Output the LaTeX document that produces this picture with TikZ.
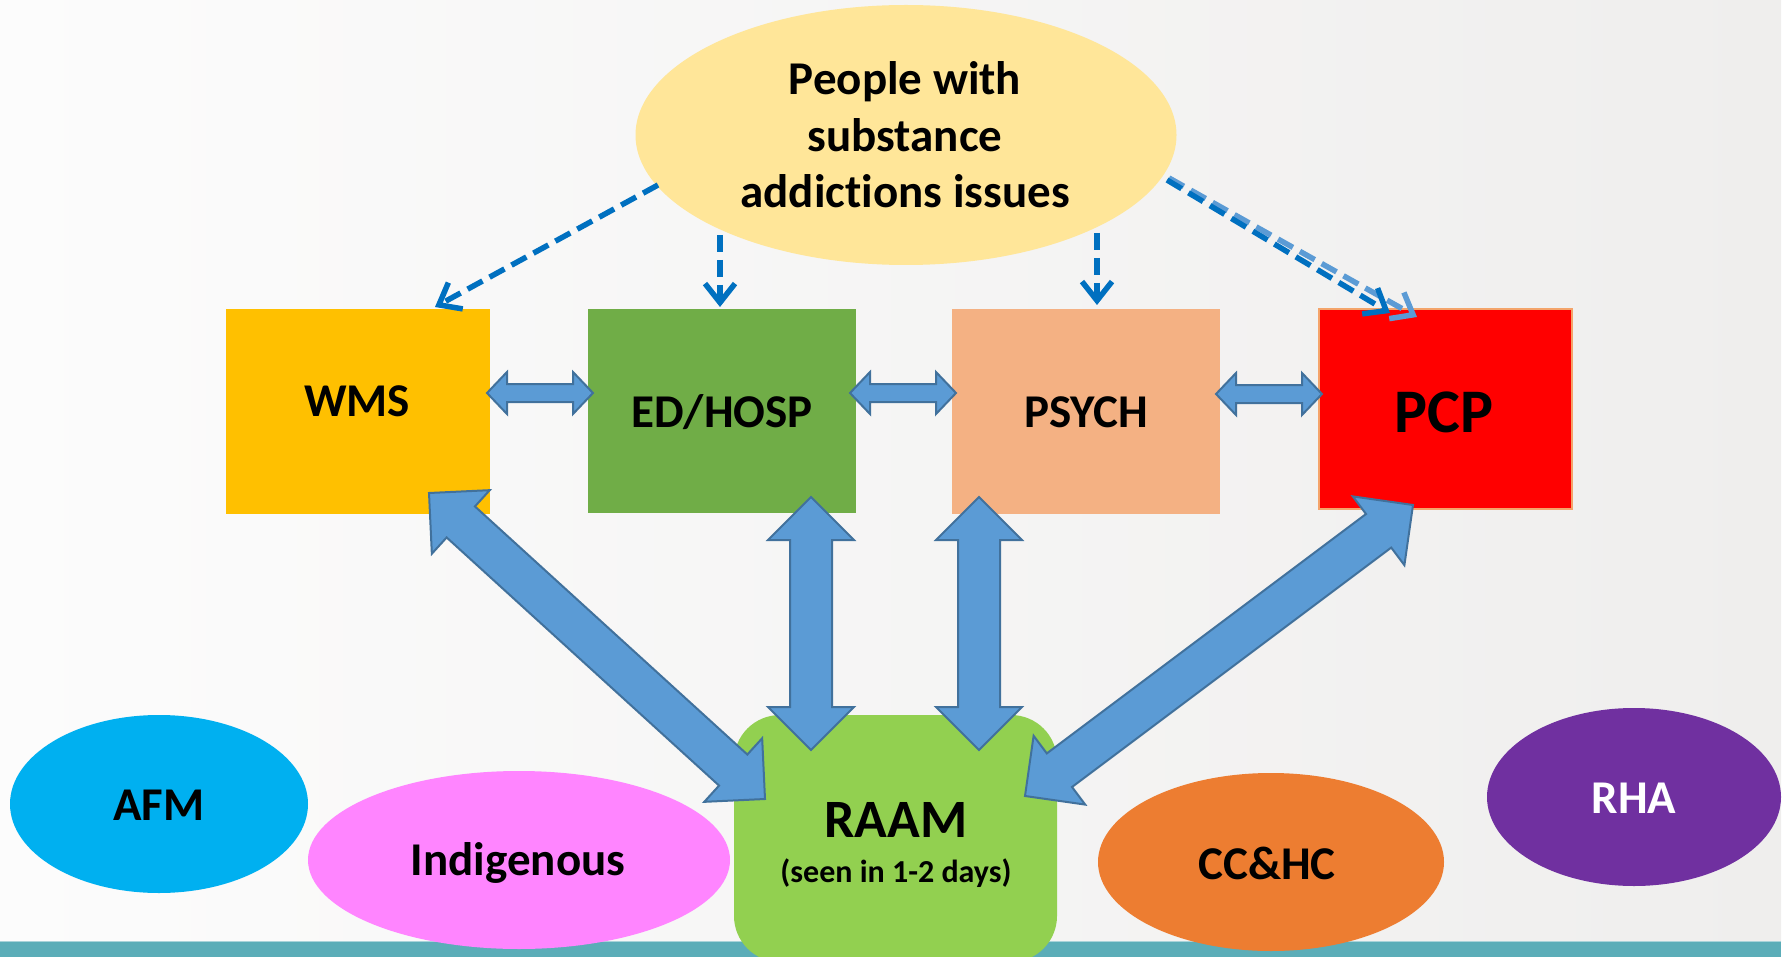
\documentclass[tikz,border=0pt]{standalone}
\usepackage{fontspec}
\setmainfont{Carlito}[Ligatures=NoCommon]
\usetikzlibrary{shapes.geometric,arrows.meta,calc}

\definecolor{bgleft}{HTML}{FCFCFC}
\definecolor{bgright}{HTML}{EFEEED}
\definecolor{stripteal}{HTML}{5BADB8}
\definecolor{stripedge}{HTML}{A9D3D9}
\definecolor{peopleyellow}{HTML}{FFE699}
\definecolor{wmsgold}{HTML}{FFC000}
\definecolor{edgreen}{HTML}{70AD47}
\definecolor{psychpeach}{HTML}{F4B183}
\definecolor{pcpred}{HTML}{FF0000}
\definecolor{pcpedge}{HTML}{F4A46A}
\definecolor{raamgreen}{HTML}{92D050}
\definecolor{afmblue}{HTML}{00B0F0}
\definecolor{indpink}{HTML}{FF85FF}
\definecolor{ccorange}{HTML}{ED7D31}
\definecolor{rhapurple}{HTML}{7030A0}
\definecolor{arrowfill}{HTML}{5B9BD5}
\definecolor{arrowedge}{HTML}{41719C}
\definecolor{dashdark}{HTML}{0070C0}
\definecolor{dashlight}{HTML}{5B9BD5}

\tikzset{
  box/.style={rectangle, draw=none, inner sep=0pt},
  oval/.style={ellipse, draw=none, inner sep=0pt},
  lbl/.style={anchor=base, inner sep=0pt, font=\bfseries\fontsize{47}{57}\selectfont},
  bigarrow/.style={fill=arrowfill, draw=arrowedge, line width=2pt, line join=miter},
  flow/.style={draw=dashdark, line width=5.5pt, line cap=butt, dash pattern=on 17pt off 8pt,
    -{Straight Barb[length=19pt, width=30pt, line width=5.5pt]}},
}

% double-headed block arrow: ends, head length, head half-width, shaft half-width
\newcommand\dblarrow[5]{%
  \filldraw[bigarrow] (#1)
    -- ($(#1)!#3!(#2)!#4!90:(#2)$)
    -- ($(#1)!#3!(#2)!#5!90:(#2)$)
    -- ($(#2)!#3!(#1)!#5!-90:(#1)$)
    -- ($(#2)!#3!(#1)!#4!-90:(#1)$)
    -- (#2)
    -- ($(#2)!#3!(#1)!#4!90:(#1)$)
    -- ($(#2)!#3!(#1)!#5!90:(#1)$)
    -- ($(#1)!#3!(#2)!#5!-90:(#2)$)
    -- ($(#1)!#3!(#2)!#4!-90:(#2)$)
    -- cycle;}

\begin{document}
\begin{tikzpicture}[x=1pt, y=-1pt]
\useasboundingbox (0,0) rectangle (1790,957);

% slide background and footer strip
\shade[left color=bgleft, right color=bgright] (0,0) rectangle (1781,942);
\fill[stripteal] (0,942) rectangle (1781,957);
\draw[stripedge, line width=1.5pt] (0,941.5) -- (1781,941.5);

% top group
\node[oval, fill=peopleyellow, minimum width=541pt, minimum height=260pt] (people) at (906,135) {};

% service boxes
\node[box, fill=wmsgold, minimum width=264pt, minimum height=205pt] (wms) at (358,411.5) {};
\node[box, fill=edgreen, minimum width=268pt, minimum height=204pt] (ed) at (722,411) {};
\node[box, fill=psychpeach, minimum width=268pt, minimum height=205pt] (psych) at (1086,411.5) {};
\node[box, fill=pcpred, draw=pcpedge, line width=1.5pt, minimum width=253pt, minimum height=200pt] (pcp) at (1445.5,409) {};

% bottom partners
\node[oval, fill=afmblue, minimum width=298pt, minimum height=178pt] (afm) at (159,804) {};
\node[oval, fill=indpink, minimum width=422pt, minimum height=178pt] (ind) at (519,860) {};
\node[box, fill=raamgreen, rounded corners=46pt, minimum width=323pt, minimum height=247pt] (raam) at (895.5,838.5) {};
\node[oval, fill=ccorange, minimum width=346pt, minimum height=178pt] (cc) at (1271,862) {};
\node[oval, fill=rhapurple, minimum width=294pt, minimum height=178pt] (rha) at (1634,797) {};

% referral flows from the top group
\coordinate (f1s) at (658,185);  \coordinate (f1e) at (435,307);
\coordinate (f2s) at (720,235);  \coordinate (f2e) at (720,307);
\coordinate (f3s) at (1097,233); \coordinate (f3e) at (1097,305);
\coordinate (f4s) at (1167,180); \coordinate (f4e) at (1390,313);
\coordinate (f5s) at (1169,178); \coordinate (f5e) at (1417,317);
\draw[flow] (f1s) -- (f1e);
\draw[flow] (f2s) -- (f2e);
\draw[flow] (f3s) -- (f3e);
\draw[flow, draw=dashlight] (f5s) -- (f5e);
\draw[flow] (f4s) -- (f4e);

% links between neighbouring services
\coordinate (h1a) at (487,393);  \coordinate (h1b) at (593,393);
\coordinate (h2a) at (850,393);  \coordinate (h2b) at (956,393);
\coordinate (h3a) at (1216,394); \coordinate (h3b) at (1322,394);
\dblarrow{h1a}{h1b}{20pt}{21pt}{9pt}
\dblarrow{h2a}{h2b}{20pt}{21pt}{9pt}
\dblarrow{h3a}{h3b}{20pt}{21pt}{9pt}

% links between RAAM and the services
\coordinate (v1a) at (811,497);  \coordinate (v1b) at (811,750);
\coordinate (v2a) at (979,497);  \coordinate (v2b) at (979,750);
\coordinate (d1a) at (429,493);  \coordinate (d1b) at (765,799);
\coordinate (d2a) at (1413,505); \coordinate (d2b) at (1025,796);
\dblarrow{v1a}{v1b}{43pt}{43pt}{21pt}
\dblarrow{v2a}{v2b}{43pt}{43pt}{21pt}
\dblarrow{d1a}{d1b}{43pt}{43pt}{21pt}
\dblarrow{d2a}{d2b}{43pt}{43pt}{21pt}

% labels
\node[lbl] (peoplet1) at (905,95) {People with};
\node[lbl] (peoplet2) at (905,152) {substance};
\node[lbl] (peoplet3) at (905,208) {addictions issues};
\node[lbl] (wmst) at (357,416) {WMS};
\node[lbl] (edt) at (722,427) {ED/HOSP};
\node[lbl] (psycht) at (1086,427) {PSYCH};
\node[lbl, font=\bfseries\fontsize{62}{74}\selectfont] (pcpt) at (1444,432) {PCP};
\node[lbl] (afmt) at (159,820) {AFM};
\node[lbl] (indt) at (518,875) {Indigenous};
\node[lbl, font=\bfseries\fontsize{54}{65}\selectfont] (raamt) at (896,837) {RAAM};
\node[lbl, font=\bfseries\fontsize{32}{38}\selectfont] (raams) at (896,882) {(seen in 1-2 days)};
\node[lbl] (cct) at (1267,879) {CC\&HC};
\node[lbl, text=white] (rhat) at (1634,813) {RHA};
\end{tikzpicture}
\end{document}
